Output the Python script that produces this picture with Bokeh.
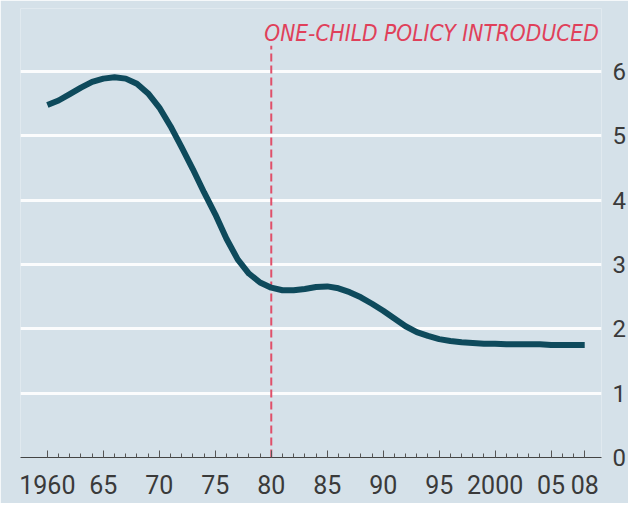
from bokeh.plotting import figure
from bokeh.models import FixedTicker, LinearAxis, Range1d
from bokeh.core.properties import value
from bokeh.embed import file_html
from bokeh.resources import INLINE

years = list(range(1960, 2009))
fertility = [5.48, 5.55, 5.65, 5.75, 5.84, 5.89, 5.91, 5.89, 5.81, 5.66,
             5.44, 5.15, 4.82, 4.48, 4.12, 3.78, 3.40, 3.08, 2.86, 2.72,
             2.64, 2.60, 2.60, 2.62, 2.65, 2.66, 2.63, 2.57, 2.49, 2.39,
             2.28, 2.16, 2.04, 1.95, 1.89, 1.84, 1.81, 1.79, 1.78, 1.77,
             1.77, 1.76, 1.76, 1.76, 1.76, 1.75, 1.75, 1.75, 1.75]
x_ticks = [1960, 1965, 1970, 1975, 1980, 1985, 1990, 1995, 2000, 2005, 2008]
x_tick_labels = ["1960", "65", "70", "75", "80", "85", "90", "95", "2000", "05", "08"]
y_ticks = [0, 1, 2, 3, 4, 5, 6]
policy_year = 1980
policy_label = "ONE-CHILD POLICY INTRODUCED"

BG = "#d5e1e9"

p = figure(width=628, height=503, output_backend="svg", toolbar_location=None,
           x_range=Range1d(1957.6, 2009.5), y_range=Range1d(0, 6.98),
           background_fill_color=BG, border_fill_color=BG,
           min_border_left=20, min_border_top=8, min_border_right=24, min_border_bottom=46,
           y_axis_location=None)
p.outline_line_color = None

# x axis
xa = p.xaxis[0]
xa.ticker = FixedTicker(ticks=x_ticks, minor_ticks=years)
xa.major_label_overrides = {t: l for t, l in zip(x_ticks, x_tick_labels)}
xa.major_tick_in = 7
xa.major_tick_out = 0
xa.minor_tick_in = 4
xa.minor_tick_out = 0
xa.axis_line_color = "#444444"
xa.axis_line_width = 1.2
xa.major_tick_line_color = "#555555"
xa.minor_tick_line_color = "#555555"
xa.major_label_text_font = "Roboto"
xa.major_label_text_font_size = "25px"
xa.major_label_text_color = "#3a3a3a"
xa.major_label_standoff = 17
p.xgrid.visible = False

# right y axis
ya = LinearAxis(ticker=FixedTicker(ticks=y_ticks))
ya.axis_line_color = None
ya.major_tick_line_color = None
ya.minor_tick_line_color = None
ya.major_label_text_font = "Roboto"
ya.major_label_text_font_size = "24px"
ya.major_label_text_color = "#3a3a3a"
ya.major_label_standoff = 5
p.add_layout(ya, "right")
p.ygrid.ticker = FixedTicker(ticks=y_ticks[1:])
p.ygrid.grid_line_color = "white"
p.ygrid.grid_line_width = 3
p.ygrid.grid_line_alpha = 0.9

# policy marker
p.segment(x0=[policy_year], y0=[0], x1=[policy_year], y1=[6.4],
          line_color="#e0506a", line_width=2, line_dash="8 4")
p.text(x=[policy_year], y=[6.6], text=[policy_label],
       text_font=value("DejaVu Sans Condensed"), text_font_style="italic",
       text_font_size="22.5px", text_color="#e0405a",
       text_baseline="alphabetic", text_align="left", x_offset=-7)

# fertility line
p.line(years, fertility, line_color="#0e4a5c", line_width=6,
       line_cap="butt", line_join="round")

open("out.html", "w").write(file_html(p, INLINE))
